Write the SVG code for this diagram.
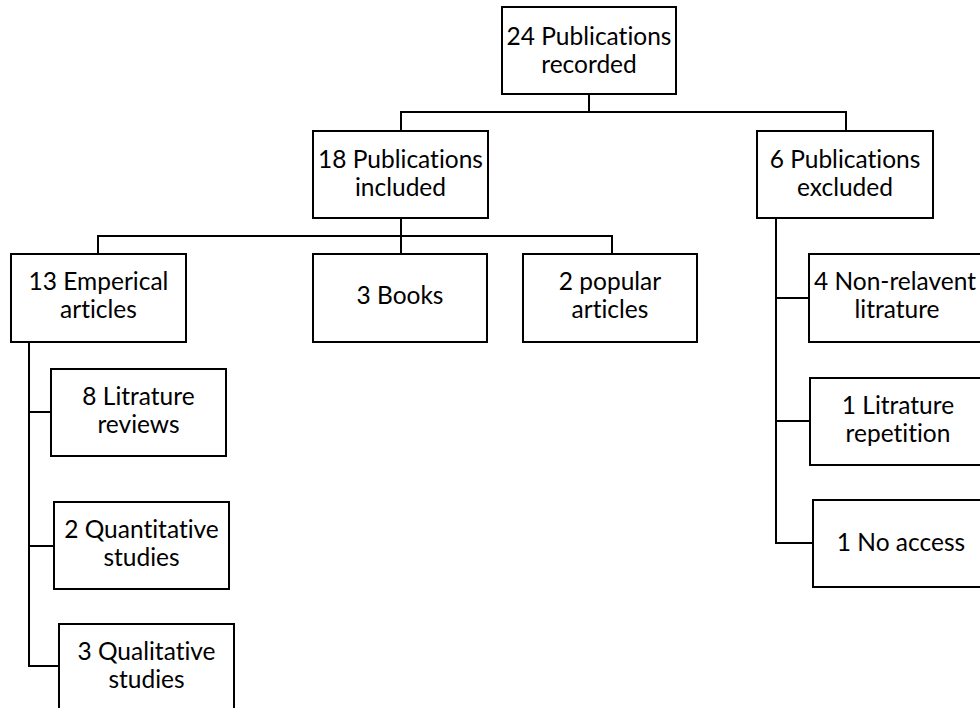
<svg xmlns="http://www.w3.org/2000/svg" width="980" height="708" viewBox="0 0 980 708">
<style>
.box{fill:#fff;stroke:#000;stroke-width:2}
.lbl{font-family:Lato,"Liberation Sans",sans-serif;font-size:24.5px;fill:#000;text-anchor:middle;font-variant-ligatures:none}
.con{fill:none;stroke:#000;stroke-width:2}
</style>
<rect width="980" height="708" fill="#fff"/>
<g id="connectors">
<path class="con" d="M589,94 V112 M401,131 V112 H846 V131"/>
<path class="con" d="M401,218 V236 M98,254 V236 H612 V254 M401,236 V254"/>
<path class="con" d="M29,342 V666 H59 M29,412 H51 M29,546 H54"/>
<path class="con" d="M776,218 V543 H813 M776,298 H809 M776,421 H810"/>
</g>
<g id="n_recorded"><rect class="box" x="502" y="7" width="174" height="87"/><text class="lbl" x="589" y="45">24 Publications</text><text class="lbl" x="589" y="73">recorded</text></g>
<g id="n_included"><rect class="box" x="313" y="131" width="175" height="87"/><text class="lbl" x="400.5" y="168">18 Publications</text><text class="lbl" x="400.5" y="196">included</text></g>
<g id="n_excluded"><rect class="box" x="757" y="131" width="176" height="87"/><text class="lbl" x="845" y="168">6 Publications</text><text class="lbl" x="845" y="196">excluded</text></g>
<g id="n_emperical"><rect class="box" x="11" y="254" width="175" height="88"/><text class="lbl" x="98.5" y="290">13 Emperical</text><text class="lbl" x="98.5" y="318">articles</text></g>
<g id="n_books"><rect class="box" x="313" y="254" width="174" height="88"/><text class="lbl" x="400" y="304">3 Books</text></g>
<g id="n_popular"><rect class="box" x="523" y="254" width="174" height="88"/><text class="lbl" x="610" y="290">2 popular</text><text class="lbl" x="610" y="318">articles</text></g>
<g id="n_reviews"><rect class="box" x="51" y="369" width="175" height="87"/><text class="lbl" x="138.5" y="405">8 Litrature</text><text class="lbl" x="138.5" y="433">reviews</text></g>
<g id="n_quant"><rect class="box" x="54" y="502" width="175" height="87"/><text class="lbl" x="141.5" y="538">2 Quantitative</text><text class="lbl" x="141.5" y="566">studies</text></g>
<g id="n_qual"><rect class="box" x="59" y="624" width="175" height="88"/><text class="lbl" x="146.5" y="660">3 Qualitative</text><text class="lbl" x="146.5" y="688">studies</text></g>
<g id="n_nonrel"><rect class="box" x="809" y="254" width="175" height="88"/><text class="lbl" x="895" y="290">4 Non-relavent</text><text class="lbl" x="897" y="318">litrature</text></g>
<g id="n_repet"><rect class="box" x="810" y="378" width="175" height="87"/><text class="lbl" x="898" y="414">1 Litrature</text><text class="lbl" x="898" y="442">repetition</text></g>
<g id="n_noaccess"><rect class="box" x="813" y="500" width="175" height="87"/><text class="lbl" x="901" y="551">1 No access</text></g>
</svg>
